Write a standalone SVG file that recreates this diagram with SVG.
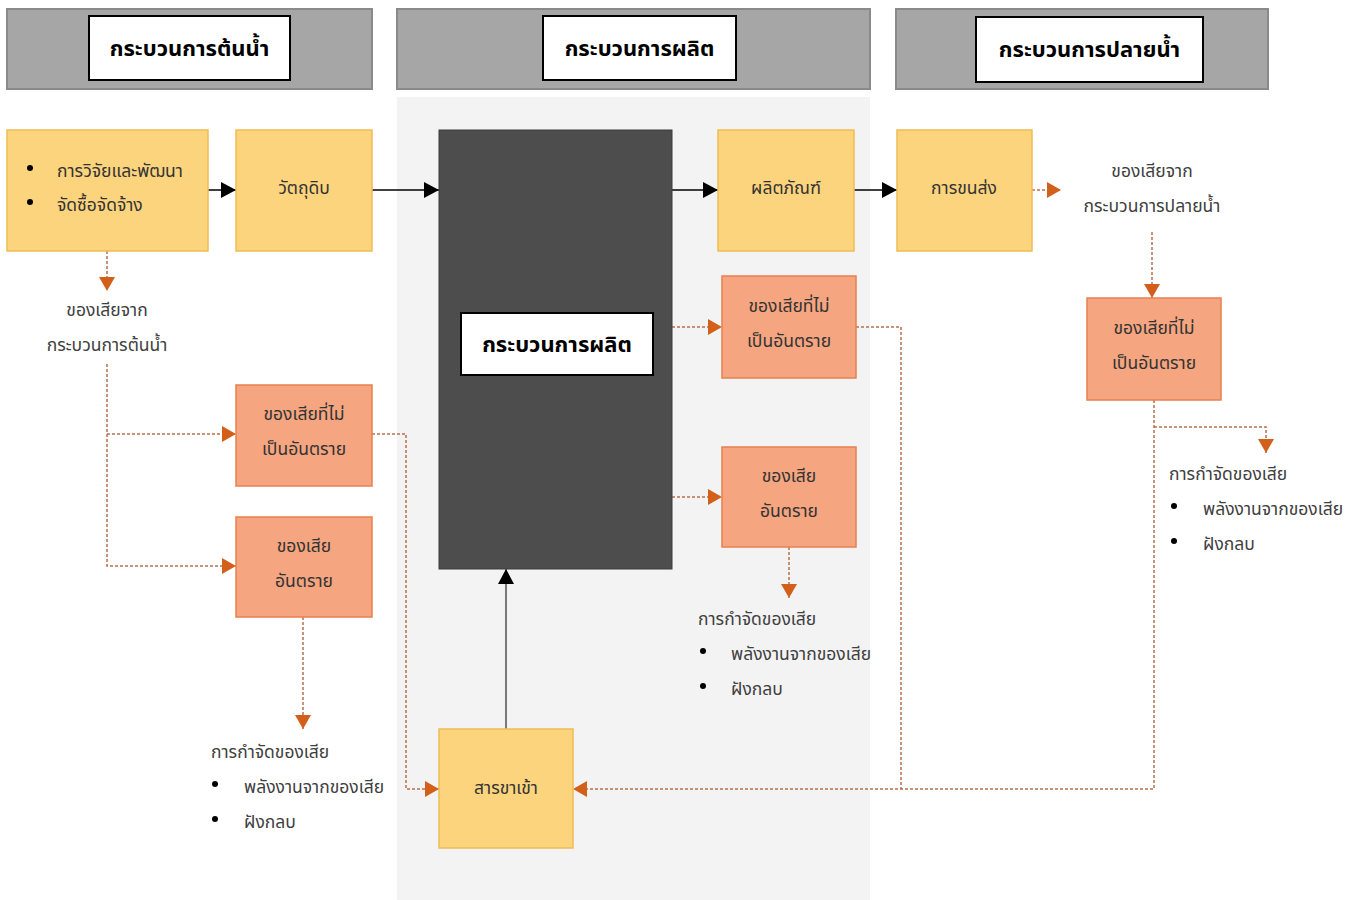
<svg xmlns="http://www.w3.org/2000/svg" width="1352" height="900" viewBox="0 0 1352 900">
<defs>
<style>
.hdr{fill:#a6a6a6;stroke:#8a8a8a;stroke-width:2}
.hbox{fill:#fff;stroke:#000;stroke-width:2}
.htxt{font-family:"Noto Sans Thai","Noto Sans","DejaVu Sans",sans-serif;font-size:22px;font-weight:bold;fill:#000;text-anchor:middle}
.y{fill:#fdd47e;stroke:#eebc55;stroke-width:1.5}
.o{fill:#f5a57f;stroke:#e7804f;stroke-width:1.5}
.t{font-family:"Noto Sans Thai","Noto Sans","DejaVu Sans",sans-serif;font-size:17.5px;fill:#333;text-anchor:middle}
.tl{font-family:"Noto Sans Thai","Noto Sans","DejaVu Sans",sans-serif;font-size:17.5px;fill:#404040}
.b{fill:#000}
.solid{stroke:#000;stroke-width:1.5;fill:none}
.dash{stroke:#b8704f;stroke-width:1.5;fill:none;stroke-dasharray:3 2}
</style>
<marker id="ab" viewBox="0 0 15 16" refX="15" refY="8" markerWidth="15" markerHeight="16" markerUnits="userSpaceOnUse" orient="auto"><path d="M0,0 L15,8 L0,16 Z" fill="#000"/></marker>
<marker id="ao" viewBox="0 0 14 16" refX="14" refY="8" markerWidth="14" markerHeight="16" markerUnits="userSpaceOnUse" orient="auto"><path d="M0,0 L14,8 L0,16 Z" fill="#d2601a"/></marker>
</defs>
<rect width="1352" height="900" fill="#fff"/>
<rect x="397" y="97" width="473" height="803" fill="#f3f3f3"/>

<g id="header-upstream"><rect class="hdr" x="7" y="9" width="365" height="80"/><rect class="hbox" x="89" y="16" width="201" height="64"/><text class="htxt" x="189.5" y="56">กระบวนการต้นน้ำ</text></g>
<g id="header-production"><rect class="hdr" x="397" y="9" width="473" height="80"/><rect class="hbox" x="543" y="16" width="193" height="64"/><text class="htxt" x="639.5" y="56">กระบวนการผลิต</text></g>
<g id="header-downstream"><rect class="hdr" x="896" y="9" width="372" height="80"/><rect class="hbox" x="976" y="17" width="227" height="65"/><text class="htxt" x="1089.5" y="57">กระบวนการปลายน้ำ</text></g>

<g id="connectors">
<path class="solid" d="M208,190 H236" marker-end="url(#ab)"/>
<path class="solid" d="M372,190 H439" marker-end="url(#ab)"/>
<path class="solid" d="M672,190 H718" marker-end="url(#ab)"/>
<path class="solid" d="M854,190 H897" marker-end="url(#ab)"/>
<path class="solid" style="stroke-width:1" d="M506,729 V569" marker-end="url(#ab)"/>
<path class="dash" d="M107,251 V291" marker-end="url(#ao)"/>
<path class="dash" d="M107,364 V566 H236" marker-end="url(#ao)"/>
<path class="dash" d="M107,434 H236" marker-end="url(#ao)"/>
<path class="dash" d="M372,434 H406 V789 H439" marker-end="url(#ao)"/>
<path class="dash" d="M303,617 V729" marker-end="url(#ao)"/>
<path class="dash" d="M672,327 H722" marker-end="url(#ao)"/>
<path class="dash" d="M672,497 H722" marker-end="url(#ao)"/>
<path class="dash" d="M789,547 V598" marker-end="url(#ao)"/>
<path class="dash" d="M856,327 H901 V789"/>
<path class="dash" d="M1154,400 V789 H573" marker-end="url(#ao)"/>
<path class="dash" d="M1032,190 H1061" marker-end="url(#ao)"/>
<path class="dash" d="M1152,232 V298" marker-end="url(#ao)"/>
<path class="dash" d="M1154,427 H1266 V453" marker-end="url(#ao)"/>
</g>

<g id="node-rd"><rect class="y" x="7" y="130" width="201" height="121"/><circle class="b" cx="30" cy="168" r="3"/><circle class="b" cx="30" cy="202" r="3"/><text class="tl" x="57" y="177" style="fill:#333">การวิจัยและพัฒนา</text><text class="tl" x="57" y="211" style="fill:#333">จัดซื้อจัดจ้าง</text></g>
<g id="node-raw"><rect class="y" x="236" y="130" width="136" height="121"/><text class="t" x="304" y="194">วัตถุดิบ</text></g>
<g id="node-process"><rect x="439" y="130" width="233" height="439" fill="#4d4d4d" stroke="#3d3d3d" stroke-width="1"/><rect class="hbox" x="461" y="313" width="192" height="62"/><text class="htxt" x="557" y="352">กระบวนการผลิต</text></g>
<g id="node-product"><rect class="y" x="718" y="130" width="136" height="121"/><text class="t" x="786" y="194">ผลิตภัณฑ์</text></g>
<g id="node-transport"><rect class="y" x="897" y="130" width="135" height="121"/><text class="t" x="964" y="194">การขนส่ง</text></g>
<g id="node-input"><rect class="y" x="439" y="729" width="134" height="119"/><text class="t" x="506" y="794">สารขาเข้า</text></g>

<g id="node-up-nonhaz"><rect class="o" x="236" y="385" width="136" height="101"/><text class="t" x="304" y="420">ของเสียที่ไม่</text><text class="t" x="304" y="455">เป็นอันตราย</text></g>
<g id="node-up-haz"><rect class="o" x="236" y="517" width="136" height="100"/><text class="t" x="304" y="552">ของเสีย</text><text class="t" x="304" y="587">อันตราย</text></g>
<g id="node-mid-nonhaz"><rect class="o" x="722" y="276" width="134" height="102"/><text class="t" x="789" y="312">ของเสียที่ไม่</text><text class="t" x="789" y="347">เป็นอันตราย</text></g>
<g id="node-mid-haz"><rect class="o" x="722" y="447" width="134" height="100"/><text class="t" x="789" y="482">ของเสีย</text><text class="t" x="789" y="517">อันตราย</text></g>
<g id="node-down-nonhaz"><rect class="o" x="1087" y="298" width="134" height="102"/><text class="t" x="1154" y="334">ของเสียที่ไม่</text><text class="t" x="1154" y="369">เป็นอันตราย</text></g>

<g id="label-up-waste"><text class="t" x="107" y="316" style="fill:#404040">ของเสียจาก</text><text class="t" x="107" y="351" style="fill:#404040">กระบวนการต้นน้ำ</text></g>
<g id="label-down-waste"><text class="t" x="1152" y="177" style="fill:#404040">ของเสียจาก</text><text class="t" x="1152" y="212" style="fill:#404040">กระบวนการปลายน้ำ</text></g>

<g id="label-up-disposal"><text class="tl" x="211" y="758">การกำจัดของเสีย</text><circle class="b" cx="215" cy="784" r="3"/><text class="tl" x="244" y="793">พลังงานจากของเสีย</text><circle class="b" cx="215" cy="819" r="3"/><text class="tl" x="244" y="828">ฝังกลบ</text></g>
<g id="label-mid-disposal"><text class="tl" x="698" y="625">การกำจัดของเสีย</text><circle class="b" cx="703" cy="651" r="3"/><text class="tl" x="731" y="660">พลังงานจากของเสีย</text><circle class="b" cx="703" cy="686" r="3"/><text class="tl" x="731" y="695">ฝังกลบ</text></g>
<g id="label-down-disposal"><text class="tl" x="1169" y="480">การกำจัดของเสีย</text><circle class="b" cx="1174" cy="506" r="3"/><text class="tl" x="1203" y="515">พลังงานจากของเสีย</text><circle class="b" cx="1174" cy="541" r="3"/><text class="tl" x="1203" y="550">ฝังกลบ</text></g>
</svg>
